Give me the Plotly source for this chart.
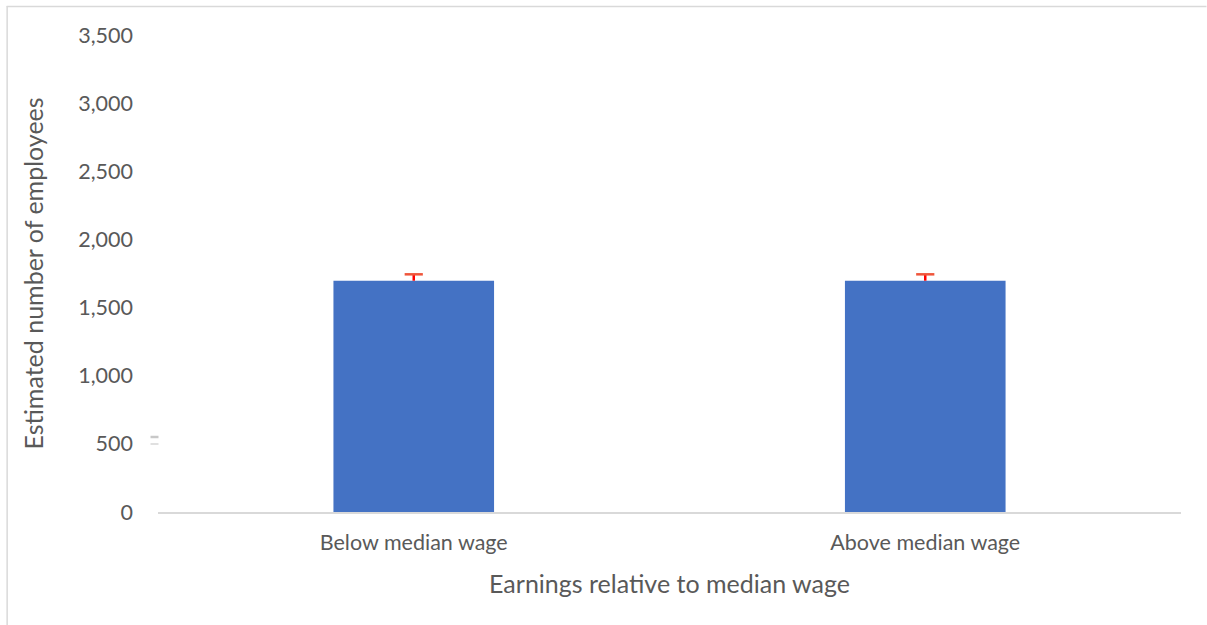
import plotly.graph_objects as go

categories = ["Below median wage", "Above median wage"]
employees = [1697, 1697]
error_plus = [47, 47]
y_ticks = [0, 500, 1000, 1500, 2000, 2500, 3000, 3500]

W, H = 1207, 625
L, R, T, B = 157.5, 25.5, 35, 113
pw, ph = W - L - R, H - T - B

def px(x):
    return (x - L) / pw

def py(y):
    return (H - B - y) / ph

fig = go.Figure()
fig.add_trace(go.Bar(
    x=categories, y=employees, width=0.314,
    marker=dict(color="#4472C4", line=dict(width=0)),
    error_y=dict(type="data", symmetric=False, array=error_plus, arrayminus=[0, 0],
                 color="#FF0000", thickness=2.5, width=0),
    hoverinfo="skip",
))
# caps only at the plus end of the error bars
fig.add_trace(go.Scatter(
    x=categories, y=[v + e for v, e in zip(employees, error_plus)], mode="markers",
    marker=dict(symbol="line-ew-open", size=13, line=dict(color="#FF0000", width=2.5)),
    hoverinfo="skip",
))

font = "Lato, 'Open Sans', sans-serif"
fig.update_layout(
    width=W, height=H,
    margin=dict(l=L, r=R, t=T, b=B, autoexpand=False),
    paper_bgcolor="white", plot_bgcolor="white",
    showlegend=False,
    font=dict(family=font, color="#595959", size=21),
    xaxis=dict(showline=True, linecolor="#d9d9d9", linewidth=1.5, ticks="",
               tickfont=dict(size=21.5), ticklabelstandoff=10,
               title=dict(text="Earnings relative to median wage", font=dict(size=25), standoff=22)),
    yaxis=dict(range=[0, 3500], tickvals=y_ticks, tickformat=",", showgrid=False,
               zeroline=False, showline=False, ticks="", ticklabelstandoff=24,
               tickfont=dict(size=21.5),
               title=dict(text="Estimated number of employees", font=dict(size=25), standoff=27)),
    shapes=[
        dict(type="line", xref="paper", yref="paper", x0=px(6), x1=px(1207), y0=py(6.5), y1=py(6.5),
             line=dict(color="#d9d9d9", width=1.5)),
        dict(type="line", xref="paper", yref="paper", x0=px(6.5), x1=px(6.5), y0=py(6), y1=py(625),
             line=dict(color="#d9d9d9", width=1.5)),
        dict(type="line", xref="paper", yref="paper", x0=px(150), x1=px(158), y0=py(437), y1=py(437),
             line=dict(color="#c8c8c8", width=2.5)),
        dict(type="line", xref="paper", yref="paper", x0=px(150), x1=px(158), y0=py(444), y1=py(444),
             line=dict(color="#e0e0e0", width=2)),
    ],
)

fig.write_html("out.html", config={"displayModeBar": False},
               post_script="document.body.style.margin='0';")
